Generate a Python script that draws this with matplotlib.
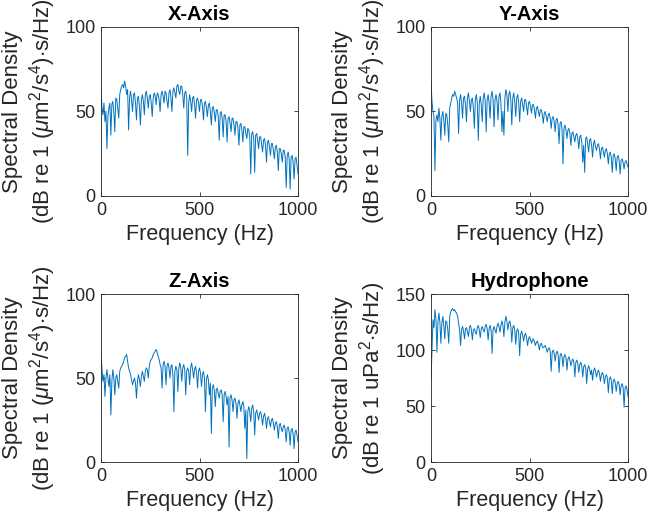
import matplotlib
matplotlib.use('Agg')
import matplotlib.pyplot as plt

plt.rcParams['font.family'] = ['Liberation Sans', 'DejaVu Sans']
plt.rcParams['mathtext.fontset'] = 'custom'
plt.rcParams['mathtext.rm'] = 'Liberation Sans'
plt.rcParams['mathtext.it'] = 'Liberation Sans:italic'

# frequency grid (Hz), 5 Hz steps
FREQ = list(range(0, 1001, 5))

X_AXIS = [63, 52, 48, 55, 44, 50, 28, 47, 52, 55,
          36, 54, 56, 50, 38, 58, 57, 52, 46, 60,
          63, 65, 66, 64, 68, 65, 60, 63, 39, 58,
          62, 57, 50, 60, 61, 55, 45, 58, 59, 53,
          42, 57, 60, 56, 48, 60, 62, 58, 52, 59,
          60, 55, 47, 58, 61, 59, 54, 61, 60, 57,
          50, 60, 62, 59, 55, 62, 61, 56, 52, 61,
          63, 58, 50, 62, 64, 61, 58, 65, 66, 62,
          60, 65, 65, 60, 52, 61, 62, 58, 24, 55,
          60, 56, 50, 58, 59, 54, 46, 57, 58, 55,
          50, 57, 57, 53, 45, 55, 56, 52, 47, 54,
          55, 50, 42, 52, 53, 49, 44, 51, 51, 47,
          33, 49, 50, 46, 35, 48, 48, 44, 32, 46,
          47, 43, 38, 46, 46, 42, 36, 44, 44, 40,
          30, 42, 43, 39, 32, 41, 41, 37, 34, 40,
          39, 35, 13, 37, 38, 34, 14, 36, 37, 33,
          28, 35, 35, 31, 26, 33, 34, 30, 20, 32,
          33, 29, 24, 31, 31, 27, 22, 29, 30, 26,
          15, 28, 28, 25, 20, 27, 27, 23, 5, 24,
          26, 22, 4, 23, 24, 20, 10, 22, 23, 18,
          13]

Y_AXIS = [68, 56, 50, 47, 15, 45, 48, 44, 52, 46,
          33, 47, 50, 45, 36, 49, 48, 42, 32, 52,
          55, 58, 60, 59, 62, 60, 58, 55, 37, 56,
          60, 55, 46, 58, 59, 54, 44, 58, 61, 56,
          50, 57, 58, 52, 40, 57, 60, 55, 33, 55,
          59, 54, 44, 58, 61, 56, 38, 57, 60, 55,
          46, 59, 62, 57, 41, 57, 60, 56, 45, 59,
          61, 55, 38, 50, 36, 58, 63, 60, 50, 60,
          62, 57, 42, 58, 61, 56, 47, 58, 60, 55,
          44, 56, 58, 54, 50, 57, 57, 53, 48, 55,
          56, 53, 49, 54, 54, 51, 46, 52, 53, 50,
          47, 51, 51, 48, 43, 49, 50, 47, 44, 48,
          49, 46, 40, 46, 47, 44, 38, 45, 46, 42,
          31, 43, 44, 40, 19, 40, 42, 39, 34, 39,
          40, 37, 30, 37, 38, 35, 32, 36, 37, 34,
          28, 35, 36, 32, 20, 30, 14, 34, 35, 31,
          26, 33, 34, 30, 23, 31, 33, 29, 27, 30,
          31, 28, 22, 28, 29, 26, 23, 27, 28, 25,
          19, 25, 26, 23, 14, 24, 25, 22, 15, 23,
          24, 21, 13, 21, 22, 20, 16, 20, 21, 19,
          17]

Z_AXIS = [65, 55, 48, 52, 39, 50, 55, 50, 45, 52,
          28, 48, 55, 50, 40, 50, 52, 48, 44, 54,
          56, 57, 58, 60, 62, 63, 64, 60, 56, 54,
          52, 49, 46, 48, 50, 47, 38, 48, 52, 49,
          45, 51, 54, 51, 48, 54, 56, 55, 50, 57,
          60, 61, 62, 64, 65, 66, 67, 65, 63, 61,
          58, 56, 44, 58, 60, 57, 46, 57, 59, 56,
          50, 57, 58, 52, 30, 54, 57, 55, 42, 56,
          59, 56, 48, 56, 58, 55, 40, 54, 56, 54,
          46, 56, 59, 55, 50, 55, 57, 53, 44, 54,
          56, 53, 45, 52, 54, 50, 30, 49, 52, 49,
          40, 47, 17, 44, 46, 43, 33, 43, 44, 41,
          38, 42, 43, 40, 24, 40, 42, 39, 34, 39,
          9, 38, 40, 37, 30, 37, 38, 35, 26, 35,
          37, 34, 30, 34, 36, 33, 20, 31, 2, 30,
          33, 30, 24, 32, 34, 30, 16, 29, 31, 28,
          25, 29, 30, 27, 22, 27, 29, 26, 20, 26,
          27, 24, 21, 25, 26, 23, 19, 23, 24, 21,
          14, 22, 23, 20, 18, 21, 22, 19, 12, 20,
          21, 18, 10, 19, 20, 17, 8, 18, 19, 16,
          12]

HYDRO = [73, 100, 127, 120, 136, 128, 98, 125, 133, 125,
         106, 124, 130, 122, 110, 126, 125, 118, 106, 130,
         134, 136, 137, 135, 136, 134, 133, 130, 124, 118,
         104, 118, 121, 117, 110, 119, 120, 116, 112, 120,
         122, 118, 109, 118, 119, 116, 114, 120, 122, 118,
         111, 119, 121, 118, 116, 121, 123, 119, 109, 119,
         122, 118, 97, 118, 121, 118, 115, 121, 124, 121,
         116, 122, 126, 122, 112, 125, 130, 126, 118, 124,
         126, 121, 107, 120, 122, 118, 105, 117, 119, 115,
         95, 114, 117, 113, 108, 113, 115, 111, 104, 110,
         112, 109, 106, 109, 110, 107, 104, 107, 108, 105,
         100, 105, 106, 103, 102, 103, 104, 101, 98, 101,
         102, 99, 81, 98, 100, 97, 90, 97, 99, 96,
         80, 95, 97, 94, 85, 94, 96, 93, 82, 92,
         94, 91, 86, 90, 92, 89, 76, 89, 91, 88,
         80, 87, 89, 86, 76, 85, 87, 84, 70, 83,
         86, 83, 78, 82, 73, 81, 84, 81, 76, 80,
         82, 79, 72, 78, 80, 77, 70, 76, 78, 75,
         62, 74, 76, 73, 61, 72, 74, 71, 63, 70,
         72, 69, 60, 68, 70, 67, 49, 66, 68, 65,
         58]

TITLES = ['X-Axis', 'Y-Axis', 'Z-Axis', 'Hydrophone']
ACC_LABEL = 'Spectral Density\n(dB re 1 ($\\mu$m$^2$/s$^4$)$\\cdot$s/Hz)'
HYD_LABEL = 'Spectral Density\n(dB re 1 uPa$^2$$\\cdot$s/Hz)'

LINE_COLOR = '#0072BD'
AX_COLOR = '#262626'

fig = plt.figure(figsize=(6.5, 5.27), dpi=100)

boxes = [
    [0.1554, 0.6281, 0.3031, 0.3207],
    [0.6631, 0.6281, 0.3031, 0.3207],
    [0.1554, 0.1233, 0.3031, 0.3188],
    [0.6631, 0.1233, 0.3031, 0.3188],
]
series = [X_AXIS, Y_AXIS, Z_AXIS, HYDRO]
labels = [ACC_LABEL, ACC_LABEL, ACC_LABEL, HYD_LABEL]
ylims = [(0, 100), (0, 100), (0, 100), (0, 150)]
yticks = [[0, 50, 100], [0, 50, 100], [0, 50, 100], [0, 50, 100, 150]]

for box, vals, title, lab, yl, yt in zip(boxes, series, TITLES, labels, ylims, yticks):
    ax = fig.add_axes(box)
    ax.plot(FREQ, vals, color=LINE_COLOR, lw=0.7)
    ax.set_xlim(0, 1000)
    ax.set_ylim(*yl)
    ax.set_xticks([0, 500, 1000])
    ax.set_yticks(yt)
    ax.tick_params(direction='in', top=True, right=True, length=3,
                   labelsize=13, colors=AX_COLOR, width=0.6, pad=4)
    for sp in ax.spines.values():
        sp.set_color(AX_COLOR)
        sp.set_linewidth(0.6)
    ax.set_xlabel('Frequency (Hz)', fontsize=15.5, color=AX_COLOR, labelpad=4)
    ax.set_ylabel(lab, fontsize=16, color=AX_COLOR, labelpad=5, linespacing=1.2)
    ax.set_title(title, fontsize=14.5, fontweight='bold', color='black', pad=5)

fig.savefig('out.png', dpi=100)
